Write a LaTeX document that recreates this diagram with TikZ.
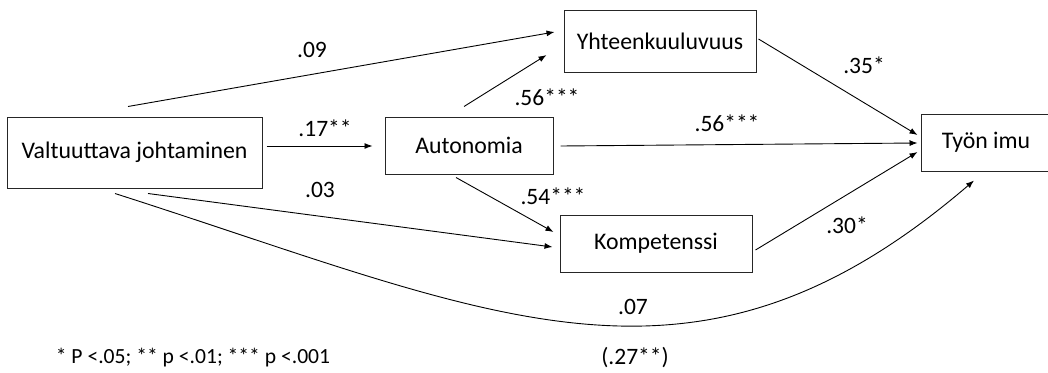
\documentclass[tikz,border=0pt]{standalone}
\usepackage{fontspec}
\setmainfont{Carlito}
\usetikzlibrary{arrows.meta,calc}
\begin{document}
\begin{tikzpicture}[x=1pt,y=-1pt,
  box/.style={draw=black!85,line width=1pt,inner sep=0pt,font=\fontsize{23.8}{28}\selectfont},
  lbl/.style={inner sep=0pt,font=\fontsize{23.5}{28}\selectfont},
  note/.style={inner sep=0pt,font=\fontsize{21.6}{25}\selectfont},
  arr/.style={line width=0.9pt,-{Latex[length=8pt,width=6pt]}},
  ]
\fill[white] (0,0) rectangle (1048,372);
\useasboundingbox (0,0) rectangle (1048,372);
% nodes
\node[box,minimum width=255pt,minimum height=71pt] (V) at (134.5,152.5) {Valtuuttava johtaminen};
\node[box,minimum width=168pt,minimum height=57pt] (A) at (469,145.5) {Autonomia};
\node[box,minimum width=192pt,minimum height=62pt] (Y) at (660,41) {Yhteenkuuluvuus};
\node[box,minimum width=192pt,minimum height=57pt] (K) at (656,243.5) {Kompetenssi};
\node[box,minimum width=130pt,minimum height=57pt] (T) at (986,142.5) {Työn imu};
% connectors
\draw[arr] ($(V.north)+(-6.5,-10)$) -- ($(Y.west)+(-9,-9)$);
\draw[arr] ($(V.east |- A.west)+(4,0.5)$) -- ($(A.west)+(-12,0.5)$);
\draw[arr] ($(A.north)+(-5,-10)$) -- ($(Y.west)+(-17,14)$);
\draw[arr] ($(A.east)+(7,0.5)$) -- ($(T.west)+(-3,0.5)$);
\draw[arr] ($(Y.east)+(2,-2)$) -- ($(T.west)+(-3,-7.5)$);
\draw[arr] ($(A.south)+(-13,3)$) -- ($(K.west)+(-6,-11.5)$);
\draw[arr] ($(V.south)+(13.5,5)$) -- ($(K.west)+(-7,3.5)$);
\draw[arr] ($(K.east)+(3,6.5)$) -- ($(T.west)+(-3,9.5)$);
\draw[arr] ($(V.south)+(-19.5,5)$) .. controls +(381,122) and +(-281,241) .. ($(T.south)+(-12,9)$);
% labels
\node[lbl] (l09) at (312,50) {.09};
\node[lbl] (l17) at (325,128) {.17**};
\node[lbl] (l03) at (320,190) {.03};
\node[lbl] (l56a) at (547,97) {.56***};
\node[lbl] (l54) at (553,196) {.54***};
\node[lbl] (l35) at (864,65) {.35*};
\node[lbl] (l56b) at (727,123) {.56***};
\node[lbl] (l30) at (847,225) {.30*};
\node[lbl] (l07) at (633,307) {.07};
\node[lbl] (l27) at (635,358) {(.27**)};
\node[note] (fn) at (193,358) {* P <.05; ** p <.01; *** p <.001};
\end{tikzpicture}
\end{document}
